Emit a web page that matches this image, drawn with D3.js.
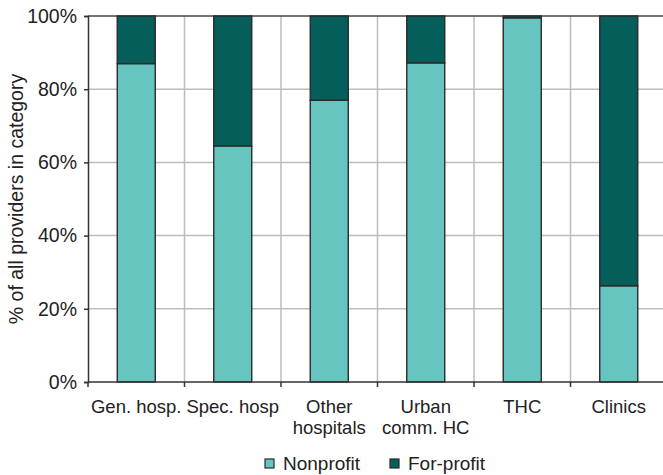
<!DOCTYPE html>
<html>
<head>
<meta charset="utf-8">
<script src="https://cdn.jsdelivr.net/npm/d3@7"></script>
<style>
  html, body { margin: 0; padding: 0; background: #fff; }
  svg { display: block; font-family: "Liberation Sans", Arial, sans-serif; }
</style>
</head>
<body>
<svg id="chart" width="663" height="475"></svg>
<script>
// Provider categories (multi-line labels split on "\n")
const categories = ["Gen. hosp.", "Spec. hosp", "Other\nhospitals", "Urban\ncomm. HC", "THC", "Clinics"];
// Share of providers in each category (%)
const nonprofit = [87, 64.5, 77, 87.2, 99.5, 26.3];
const forprofit = nonprofit.map(v => 100 - v);
const seriesNames = ["Nonprofit", "For-profit"];
const seriesColors = ["#66c5bf", "#065e5a"];
const yTicks = [0, 20, 40, 60, 80, 100];

const FS = 19;
const svg = d3.select("#chart");
const W = 663;
const x0 = 88, x1 = 667;

const x = d3.scaleBand().domain(categories).range([x0, x1]).paddingInner(0).paddingOuter(0);
const y = d3.scaleLinear().domain([0, 100]).range([382, 16]);

const rows = categories.map((c, i) => ({ cat: c, Nonprofit: nonprofit[i], "For-profit": forprofit[i] }));
const stack = d3.stack().keys(seriesNames)(rows);

// gridlines
const grid = svg.append("g");
grid.selectAll("line.h").data(yTicks.filter(t => t > 0 && t < 100)).join("line")
  .attr("x1", x0).attr("x2", W).attr("y1", d => y(d)).attr("y2", d => y(d))
  .attr("stroke", "#bdbdbd").attr("stroke-width", 1.5);
grid.selectAll("line.v").data(categories.slice(1)).join("line")
  .attr("x1", d => x(d)).attr("x2", d => x(d)).attr("y1", y(100)).attr("y2", y(0))
  .attr("stroke", "#bdbdbd").attr("stroke-width", 1.5);

// top frame line
svg.append("line").attr("x1", x0).attr("x2", W).attr("y1", y(100)).attr("y2", y(100))
  .attr("stroke", "#444").attr("stroke-width", 1.5);

// bars
const barW = 38;
svg.append("g").selectAll("g").data(stack).join("g")
  .attr("fill", (d, i) => seriesColors[i])
  .selectAll("rect").data(d => d).join("rect")
  .attr("x", d => x(d.data.cat) + x.bandwidth() / 2 - barW / 2)
  .attr("width", barW)
  .attr("y", d => y(d[1]))
  .attr("height", d => y(d[0]) - y(d[1]))
  .attr("stroke", "#2a2a2a").attr("stroke-width", 1.4);

// y axis
const yAxis = d3.axisLeft(y).tickValues(yTicks).tickFormat(d => d + "%").tickSize(4).tickPadding(7);
const gy = svg.append("g").attr("transform", `translate(${x0},0)`).call(yAxis);
gy.select(".domain").attr("stroke", "#333").attr("stroke-width", 1.5);
gy.selectAll(".tick line").attr("stroke", "#333").attr("stroke-width", 1.5);
gy.selectAll(".tick text").attr("font-size", 19.5).attr("fill", "#222")
  .attr("font-family", "Liberation Sans, Arial, sans-serif");

// x axis baseline and boundary ticks
svg.append("line").attr("x1", x0).attr("x2", W).attr("y1", y(0)).attr("y2", y(0))
  .attr("stroke", "#333").attr("stroke-width", 1.5);
svg.append("g").selectAll("line").data(categories).join("line")
  .attr("x1", d => x(d)).attr("x2", d => x(d)).attr("y1", y(0)).attr("y2", y(0) + 5)
  .attr("stroke", "#333").attr("stroke-width", 1.5);

// category labels
const lbl = svg.append("g").selectAll("text").data(categories).join("text")
  .attr("x", d => x(d) + x.bandwidth() / 2)
  .attr("y", 413)
  .attr("text-anchor", "middle")
  .attr("font-size", 18.5).attr("fill", "#222");
lbl.each(function(d) {
  const parts = d.split("\n");
  d3.select(this).selectAll("tspan").data(parts).join("tspan")
    .attr("x", x(d) + x.bandwidth() / 2)
    .attr("dy", (p, i) => i === 0 ? 0 : 21)
    .text(p => p);
});

// y axis title
svg.append("text")
  .attr("transform", `translate(23,${(y(0) + y(100)) / 2}) rotate(-90)`)
  .attr("text-anchor", "middle")
  .attr("font-size", 19.5).attr("fill", "#222")
  .text("% of all providers in category");

// legend
const legendX = [265, 390];
const lg = svg.append("g").selectAll("g").data(seriesNames).join("g")
  .attr("transform", (d, i) => `translate(${legendX[i]},459)`);
lg.append("rect").attr("width", 9).attr("height", 9)
  .attr("fill", (d, i) => seriesColors[i]).attr("stroke", "#2a2a2a").attr("stroke-width", 1.2);
lg.append("text").attr("x", 18).attr("y", 11).attr("font-size", FS).attr("fill", "#222").text(d => d);
</script>
</body>
</html>
